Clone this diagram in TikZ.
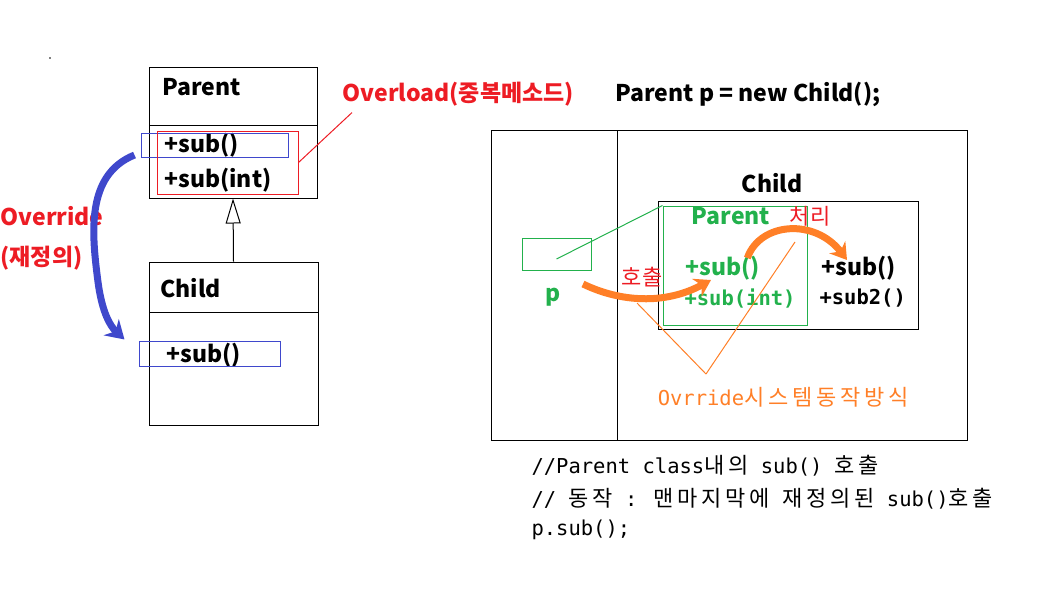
\documentclass[tikz,border=0pt]{standalone}
\usepackage{fontspec}
\setmainfont{Noto Sans CJK KR}
\newfontfamily\krfont{Noto Sans CJK KR}
\newfontfamily\krcode{Noto Sans CJK KR}[LetterSpace=17]
\newfontfamily\codefont{DejaVu Sans Mono}
\newcommand{\kr}[1]{{\krcode\fontsize{22}{24}\selectfont #1}}
\usepackage{tikz}
\usetikzlibrary{arrows.meta}
\definecolor{pred}{RGB}{237,28,36}
\definecolor{pblue}{RGB}{63,72,204}
\definecolor{pgreen}{RGB}{34,177,76}
\definecolor{porange}{RGB}{255,127,39}

\begin{document}
\begin{tikzpicture}[x=1pt,y=-1pt,line width=1pt,
		box/.style={draw,inner sep=0pt},
		bold/.style={font=\krfont\bfseries\fontsize{23}{26}\selectfont,inner sep=0pt},
		code/.style={font=\codefont\fontsize{20.5}{24}\selectfont,inner sep=0pt},
		hand/.style={font=\krfont\fontsize{22}{26}\selectfont,inner sep=0pt,text=pred},
		thick hand/.style={line width=7pt,-{Stealth[length=16pt,width=20pt]}}]
				\useasboundingbox (0,0) rectangle (1046,611);
				\fill (50,58) circle (0.8);
				\node[box,minimum width=168pt,minimum height=131pt] (parentbox) at (233,132.5) {};
				\draw[-] (149,125) to (317,125);
				\node[bold,anchor=west] (parentname) at (162,87) {Parent};
				\node[bold,anchor=west] (psub) at (164,145) {+sub()};
				\node[bold,anchor=west] (psubint) at (164,180) {+sub(int)};
				\node[box,draw=pblue,minimum width=147pt,minimum height=24pt] (prsub) at (214.5,145) {};
				\node[box,draw=pred,minimum width=141pt,minimum height=63pt] (ovrect) at (227.5,162.5) {};
				\node[box,minimum width=169pt,minimum height=163pt] (childbox) at (233.5,343.5) {};
				\draw[-] (149,312) to (318,312);
				\node[bold,anchor=west] (childname) at (160,288) {Child};
				\node[bold,anchor=west] (csub) at (166,355) {+sub()};
				\node[box,draw=pblue,minimum width=141pt,minimum height=25pt] (chsub) at (209.5,353.5) {};
				\draw[-{Triangle[open,length=25pt,width=15pt]}] (childbox.north) to (parentbox.south);
				\node[bold,anchor=west,text=pred] (override) at (0,216) {Override};
				\node[bold,anchor=west,text=pred] (override2) at (0,258) {(재정의)};
				\draw[pblue,line width=7pt,-{Stealth[length=18pt,width=22pt]}] ([shift={(-6,10)}]prsub.west) .. controls (85,175) and (92,235) .. (98,282) .. controls (102,312) and (110,326) .. ([shift={(-14,-14)}]chsub.west);
				\node[bold,anchor=west,text=pred] (overload) at (342,94) {Overload(중복메소드)};
				\draw[pred] (ovrect.east) to ([shift={(10,6)}]overload.south west);
				\node[bold,anchor=west] (decl) at (615,94) {Parent p = new Child();};
				\node[box,minimum width=476pt,minimum height=310pt] (heap) at (729,285) {};
				\draw[-] (617,130) to (617,440);
				\node[box,draw=pgreen,minimum width=69pt,minimum height=32pt] (pref) at (556.5,254) {};
				\node[bold,text=pgreen] (pname) at (553,297) {p};
				\node[box,minimum width=260pt,minimum height=128pt] (childobj) at (788,265) {};
				\node[bold] (childobjname) at (772,183) {Child};
				\node[box,draw=pgreen,minimum width=144pt,minimum height=119pt] (parentobj) at (735,265.5) {};
				\node[bold,text=pgreen] (parentobjname) at (731,216) {Parent};
				\draw[pgreen] ([yshift=-5pt]pref.center) to (parentobj.north west);
				\node[bold,anchor=west,text=pgreen] (gsub) at (685,268) {+sub()};
				\node[code,anchor=west,text=pgreen,font=\codefont\bfseries\fontsize{20.5}{24}\selectfont] (gsubint) at (684,299) {+sub(int)};
				\node[bold,anchor=west] (bsub) at (821,268) {+sub()};
				\node[code,anchor=west,font=\codefont\bfseries\fontsize{20.5}{24}\selectfont] (bsub2) at (819,298) {+sub2()};
				\node[hand] (call) at (642,277) {호출};
				\node[hand] (handle) at (810,216) {처리};
				\draw[porange,thick hand] ([shift={(30,-13)}]pname.center) .. controls (620,302) and (665,305) .. ([shift={(26,12)}]gsub.west);
				\draw[porange,thick hand] ([shift={(-13,-10)}]gsub.east) .. controls (760,222) and (815,218) .. ([shift={(26,-8)}]bsub.west);
				\node[code,text=porange] (howlabel) at (783,397) {Ovrride\kr{시스템동작방식}};
				\coordinate (vtip) at (706,374);
				\draw[porange] (vtip) to (637,303);
				\draw[porange] (vtip) to (795,242);
				\node[code,anchor=west] (line1) at (531,466) {//Parent class\kr{내의} sub() \kr{호출}};
				\node[code,anchor=west] (line2) at (531,499) {// \kr{동작} : \kr{맨마지막에} \kr{재정의된} sub()\kr{호출}};
				\node[code,anchor=west] (line3) at (531,530) {p.sub();};
\end{tikzpicture}
\end{document}
